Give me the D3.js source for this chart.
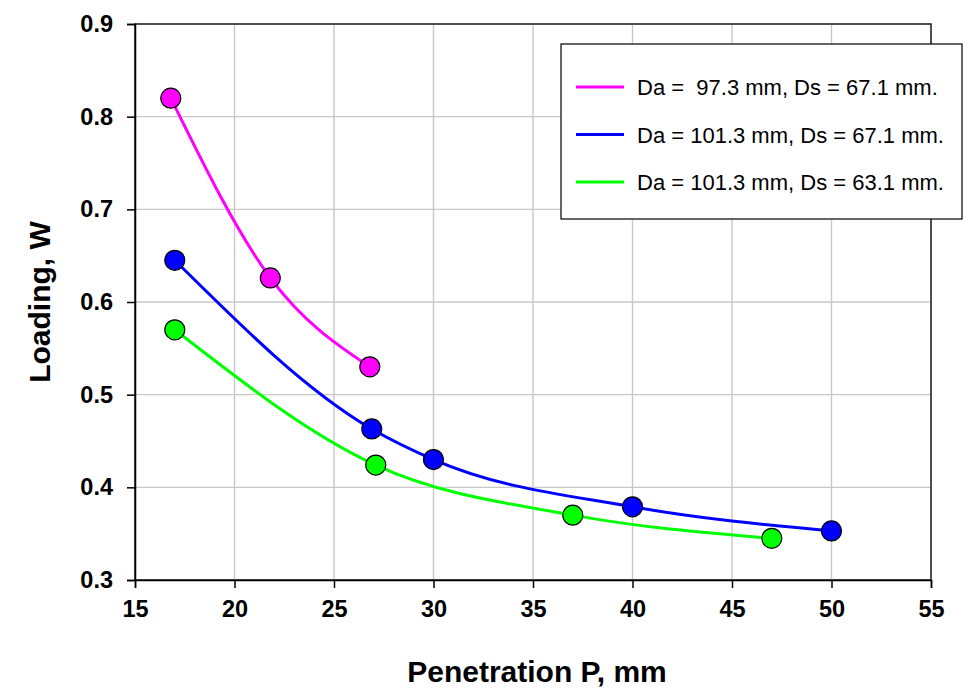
<!DOCTYPE html>
<html>
<head>
<meta charset="utf-8">
<script src="https://cdn.jsdelivr.net/npm/d3@7"></script>
<style>
  body { margin: 0; background: #fff; }
  svg { display: block; font-family: "Liberation Sans", Arial, sans-serif; }
</style>
</head>
<body>
<div id="chart"></div>
<script>
// series data
const pinkP = [16.8, 21.8, 26.8];
const pinkW = [0.820, 0.626, 0.530];
const blueP = [17.0, 26.9, 30.0, 40.0, 50.0];
const blueW = [0.645, 0.463, 0.430, 0.379, 0.353];
const greenP = [17.0, 27.1, 37.0, 47.0];
const greenW = [0.570, 0.424, 0.370, 0.345];

const seriesNames = [
    "Da =  97.3 mm, Ds = 67.1 mm.",
    "Da = 101.3 mm, Ds = 67.1 mm.",
    "Da = 101.3 mm, Ds = 63.1 mm."
];
const seriesColors = ["#ff00ff", "#0000ff", "#00ff00"];
const xTicks = [15, 20, 25, 30, 35, 40, 45, 50, 55];
const yTicks = [0.3, 0.4, 0.5, 0.6, 0.7, 0.8, 0.9];

const width = 973, height = 693;
const margin = {top: 24, right: 42, bottom: 113, left: 135};
const iw = width - margin.left - margin.right;
const ih = height - margin.top - margin.bottom;

const svg = d3.select("#chart").append("svg")
    .attr("width", width)
    .attr("height", height);

const x = d3.scaleLinear().domain([15, 55]).range([0, iw]);
const y = d3.scaleLinear().domain([0.3, 0.9]).range([ih, 0]);

const g = svg.append("g").attr("transform", `translate(${margin.left},${margin.top})`);

// gridlines
g.append("g").selectAll("line").data(xTicks).enter().append("line")
    .attr("x1", d => x(d)).attr("x2", d => x(d))
    .attr("y1", 0).attr("y2", ih)
    .style("stroke", "#c8c8c8").style("stroke-width", 1.4);
g.append("g").selectAll("line").data(yTicks).enter().append("line")
    .attr("x1", 0).attr("x2", iw)
    .attr("y1", d => y(d)).attr("y2", d => y(d))
    .style("stroke", "#c8c8c8").style("stroke-width", 1.4);

// frame
g.append("rect")
    .attr("width", iw).attr("height", ih)
    .style("fill", "none").style("stroke", "#222").style("stroke-width", 1.5);

// axes
const xAxis = g.append("g")
    .attr("transform", `translate(0,${ih})`)
    .call(d3.axisBottom(x).tickValues(xTicks).tickSize(8).tickPadding(12));
const yAxis = g.append("g")
    .call(d3.axisLeft(y).tickValues(yTicks).tickSize(8).tickPadding(14).tickFormat(d3.format(".1f")));

[xAxis, yAxis].forEach(a => {
    a.select(".domain").style("stroke", "#000").style("stroke-width", 1.5);
    a.selectAll(".tick line").style("stroke", "#000").style("stroke-width", 1.5);
    a.selectAll("text")
        .style("font-family", "'Liberation Sans', Arial, sans-serif")
        .style("font-size", "23.5px")
        .style("font-weight", "bold")
        .style("fill", "#000");
});

// axis titles
svg.append("text")
    .attr("x", margin.left + iw / 2 + 4)
    .attr("y", 682)
    .attr("text-anchor", "middle")
    .style("font-size", "30px").style("font-weight", "bold")
    .text("Penetration P, mm");

svg.append("text")
    .attr("transform", `translate(50,${margin.top + ih / 2}) rotate(-90)`)
    .attr("text-anchor", "middle")
    .style("font-size", "30px").style("font-weight", "bold")
    .text("Loading, W");

// series
const series = [
    {p: pinkP, w: pinkW},
    {p: blueP, w: blueW},
    {p: greenP, w: greenW}
];

const line = d3.line()
    .x(d => x(d[0]))
    .y(d => y(d[1]))
    .curve(d3.curveMonotoneX);

series.forEach((s, i) => {
    const pts = s.p.map((v, j) => [v, s.w[j]]);
    g.append("path")
        .datum(pts)
        .attr("d", line)
        .style("fill", "none")
        .style("stroke", seriesColors[i])
        .style("stroke-width", 3);
});

series.forEach((s, i) => {
    const pts = s.p.map((v, j) => [v, s.w[j]]);
    g.append("g").selectAll("circle").data(pts).enter().append("circle")
        .attr("cx", d => x(d[0]))
        .attr("cy", d => y(d[1]))
        .attr("r", 10)
        .style("fill", seriesColors[i])
        .style("stroke", "#000")
        .style("stroke-width", 1.2);
});

// legend
const legend = svg.append("g").attr("transform", "translate(561,44)");
legend.append("rect")
    .attr("width", 401).attr("height", 175)
    .style("fill", "#fff").style("stroke", "#000").style("stroke-width", 1.2);

const rows = legend.selectAll("g.row").data(seriesNames).enter().append("g")
    .attr("class", "row")
    .attr("transform", (d, i) => `translate(0,${43 + i * 47.5})`);
rows.append("line")
    .attr("x1", 15).attr("x2", 63)
    .style("stroke", (d, i) => seriesColors[i])
    .style("stroke-width", 3);
rows.append("text")
    .attr("x", 76).attr("y", 8)
    .style("font-size", "22px")
    .style("white-space", "pre")
    .attr("xml:space", "preserve")
    .text(d => d);
</script>
</body>
</html>
